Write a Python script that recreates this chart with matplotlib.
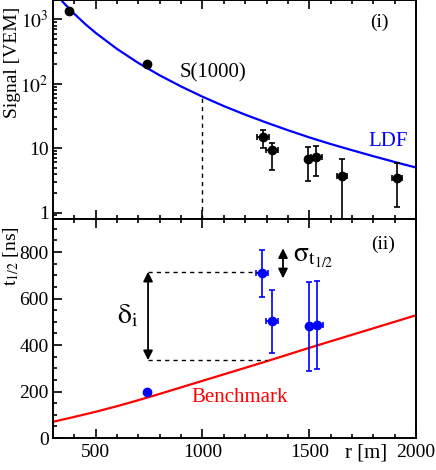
import matplotlib
matplotlib.use("Agg")
import matplotlib.pyplot as plt
from matplotlib.ticker import MultipleLocator, LogLocator, FixedLocator, NullFormatter

plt.rcParams["font.family"] = ["Liberation Serif", "DejaVu Serif"]
plt.rcParams["mathtext.fontset"] = "stix"
plt.rcParams["font.size"] = 14

# (i) station signals
sig_r = [375, 740, 1285, 1324, 1495, 1533, 1655, 1910]
sig_val = [1330, 200, 15, 9.2, 6.8, 7.2, 3.65, 3.5]
sig_lo = [1330, 200, 10.0, 4.5, 3.1, 3.65, 0.3, 1.23]
sig_hi = [1330, 200, 19.3, 12.2, 10.6, 10.7, 6.7, 5.8]
sig_rerr = [0, 0, 28, 28, 0, 26, 24, 24]

# LDF curve
ldf_r = [320, 350, 400, 450, 500, 600, 700, 800, 900, 1000, 1100, 1200, 1300, 1400,
         1500, 1600, 1700, 1800, 1900, 2000]
ldf_s = [2340, 1803, 1216, 851, 616, 347, 210, 135, 90.7, 63, 45, 33.1, 24.9, 19.0,
         14.7, 11.6, 9.3, 7.5, 6.1, 5.0]

# (ii) rise times
t_r = [740, 1280, 1324, 1500, 1535]
t_val = [200, 708, 502, 481, 487]
t_lo = [200, 608, 364, 289, 295]
t_hi = [200, 808, 636, 671, 677]
t_rerr = [0, 28, 28, 0, 28]

# benchmark curve
bench_r = [300, 400, 500, 600, 700, 800, 900, 1000, 1100, 1200, 1300, 1400, 1500,
           1600, 1700, 1800, 1900, 2000]
bench_t = [70, 91, 113, 137, 163, 190, 218, 246, 274, 302, 330, 359, 388,
           416, 444, 472, 500, 528]

fig = plt.figure(figsize=(4.36, 4.70), dpi=100)
ax1 = fig.add_axes([0.1216, 0.533, 0.8326, 0.467])
ax2 = fig.add_axes([0.1216, 0.068, 0.8326, 0.465])

for ax in (ax1, ax2):
    ax.set_xlim(300, 2000)
    ax.xaxis.set_major_locator(MultipleLocator(500))
    ax.xaxis.set_minor_locator(MultipleLocator(100))
    ax.tick_params(which="both", direction="in", top=True, right=False, width=1.2)
    ax.tick_params(which="major", length=6.5, pad=4)
    ax.tick_params(which="minor", length=3)
    ax.tick_params(axis="y", which="major", pad=3)
    for s in ax.spines.values():
        s.set_linewidth(1.4)

# top panel
ax1.set_yscale("log")
ax1.set_ylim(0.78, 2000)
ax1.yaxis.set_major_locator(FixedLocator([1, 10, 100, 1000]))
ax1.set_yticklabels(["1", "10", r"$10^2$", r"$10^3$"])
ax1.yaxis.set_minor_locator(LogLocator(subs=range(2, 10)))
ax1.yaxis.set_minor_formatter(NullFormatter())
ax1.xaxis.set_major_formatter(NullFormatter())

ax1.plot(ldf_r, ldf_s, color="blue", lw=1.6)
ax1.plot([1000, 1000], [0.78, 63], color="black", ls=(0, (3, 3)), lw=1)
yerr1 = [[v - lo for v, lo in zip(sig_val, sig_lo)], [hi - v for v, hi in zip(sig_val, sig_hi)]]
ax1.errorbar(sig_r, sig_val, yerr=yerr1, xerr=sig_rerr, fmt="o", color="black",
             ms=6, elinewidth=1.2, capsize=2, capthick=1.2)
ax1.text(1050, 148, "S(1000)", ha="center", va="center", fontsize=15)
ax1.text(1869, 12.9, "LDF", ha="center", va="center", color="blue", fontsize=15)
ax1.text(0.90, 0.90, "(i)", transform=ax1.transAxes, ha="center", va="center", fontsize=14)
ax1.set_ylabel("Signal [VEM]", loc="top", fontsize=14)
ax1.yaxis.set_label_coords(-0.089, 0.97)

# bottom panel
ax2.set_ylim(0, 940)
ax2.yaxis.set_major_locator(MultipleLocator(200))
ax2.yaxis.set_minor_locator(MultipleLocator(50))

ax2.plot(bench_r, bench_t, color="red", lw=1.6)
yerr2 = [[v - lo for v, lo in zip(t_val, t_lo)], [hi - v for v, hi in zip(t_val, t_hi)]]
ax2.errorbar(t_r, t_val, yerr=yerr2, xerr=t_rerr, fmt="o", color="blue",
             ms=6, elinewidth=1.2, capsize=2, capthick=1.2)

ax2.plot([745, 1280], [715, 715], color="black", ls=(0, (3, 3)), lw=1)
ax2.plot([745, 1300], [335, 335], color="black", ls=(0, (3, 3)), lw=1)
ax2.annotate("", xy=(745, 715), xytext=(745, 335),
             arrowprops=dict(arrowstyle="<|-|>", color="black", lw=1.3,
                             mutation_scale=14, shrinkA=0, shrinkB=0))
ax2.annotate("", xy=(1377, 816), xytext=(1377, 687),
             arrowprops=dict(arrowstyle="<|-|>", color="black", lw=1.3,
                             mutation_scale=14, shrinkA=0, shrinkB=0))
ax2.text(651, 523, r"$\mathrm{\delta}_{\mathrm{i}}$", ha="center", va="center", fontsize=20)
ax2.text(1424, 778, r"$\mathrm{\sigma}_{\mathrm{t}_{1/2}}$", ha="left", va="center", fontsize=20)
ax2.text(1176, 173, "Benchmark", ha="center", va="center", color="red", fontsize=15)
ax2.text(0.909, 0.885, "(ii)", transform=ax2.transAxes, ha="center", va="center", fontsize=14)

ax2.set_ylabel(r"$\mathrm{t}_{1/2}$ [ns]", loc="top", fontsize=14)
ax2.yaxis.set_label_coords(-0.089, 0.97)
ax2.set_xlabel("r [m]", fontsize=15)
ax2.xaxis.set_label_coords(0.862, -0.025)
ax2.xaxis.label.set_va("top")

fig.savefig("out.png", dpi=100)
